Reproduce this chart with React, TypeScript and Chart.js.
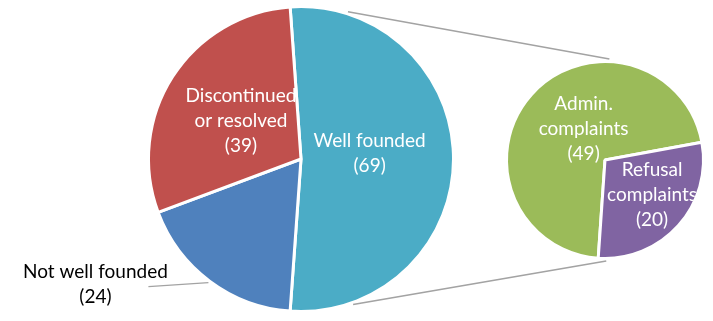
import { useEffect, useRef } from 'react';
import { Chart, registerables } from 'chart.js';

Chart.register(...registerables);

// ---- data ----
const mainCategories = ['Well founded', 'Not well founded', 'Discontinued or resolved'];
const mainValues = [69, 24, 39];
const mainNameLines = [['Well founded'], ['Not well founded'], ['Discontinued', 'or resolved']];

const subCategories = ['Admin. complaints', 'Refusal complaints'];
const subValues = [49, 20];
const subNameLines = [['Admin.', 'complaints'], ['Refusal', 'complaints']];

// ---- styles ----
const W = 713;
const H = 321;
const mainColors = ['#4BACC6', '#4F81BD', '#C0504D'];
const subColors = ['#9BBB59', '#8064A2'];
const FONT = '19px Lato';
const LINE_H = 25;
const CONNECTOR = '#a3a3a3';

type LabelCfg = { f: number; dx: number; dy: number; outside?: boolean; leader?: [number, number]; textOff?: [number, number] };

const mainLabelCfg: LabelCfg[] = [
  { f: 0.45, dx: 0, dy: -6 },
  { f: 1, dx: 0, dy: 0, outside: true, leader: [-60, 4], textOff: [-53, -2] },
  { f: 0.468, dx: 0, dy: 0 },
];
const subLabelCfg: LabelCfg[] = [
  { f: 0.4, dx: 8, dy: -5 },
  { f: 0.6, dx: 3, dy: -4 },
];

function makeLabelPlugin(nameLines: string[][], values: number[], cfg: LabelCfg[]) {
  return {
    id: 'sliceLabels',
    afterDatasetsDraw(chart: any) {
      const ctx = chart.ctx as CanvasRenderingContext2D;
      const meta = chart.getDatasetMeta(0);
      meta.data.forEach((arc: any, i: number) => {
        const { x, y, startAngle, endAngle, outerRadius } = arc.getProps(
          ['x', 'y', 'startAngle', 'endAngle', 'outerRadius'],
          true
        );
        const mid = (startAngle + endAngle) / 2;
        const c = cfg[i];
        const lines = [...nameLines[i], `(${values[i]})`];
        ctx.save();
        ctx.font = FONT;
        ctx.textAlign = 'center';
        ctx.textBaseline = 'middle';
        let cx: number;
        let cy: number;
        if (c.outside && c.leader && c.textOff) {
          const sx = x + Math.cos(mid) * (outerRadius + 2);
          const sy = y + Math.sin(mid) * (outerRadius + 2);
          const ex = sx + c.leader[0];
          const ey = sy + c.leader[1];
          ctx.strokeStyle = CONNECTOR;
          ctx.lineWidth = 1.3;
          ctx.beginPath();
          ctx.moveTo(sx, sy);
          ctx.lineTo(ex, ey);
          ctx.stroke();
          cx = ex + c.textOff[0];
          cy = ey + c.textOff[1];
          ctx.fillStyle = '#000000';
        } else {
          cx = x + Math.cos(mid) * outerRadius * c.f + c.dx;
          cy = y + Math.sin(mid) * outerRadius * c.f + c.dy;
          ctx.beginPath();
          ctx.moveTo(x, y);
          ctx.arc(x, y, outerRadius - 1.5, startAngle, endAngle);
          ctx.closePath();
          ctx.clip();
          ctx.fillStyle = '#ffffff';
        }
        const top = cy - ((lines.length - 1) * LINE_H) / 2;
        lines.forEach((t, k) => ctx.fillText(t, cx, top + k * LINE_H));
        ctx.restore();
      });
    },
  };
}

const sum = (a: number[]) => a.reduce((s, v) => s + v, 0);

export default function App() {
  const mainRef = useRef<HTMLCanvasElement>(null);
  const subRef = useRef<HTMLCanvasElement>(null);

  useEffect(() => {
    document.body.style.margin = '0';
    const mainTotal = sum(mainValues);
    const subTotal = sum(subValues);
    const splitSweep = (mainValues[0] / mainTotal) * 360;

    const mainChart = new Chart(mainRef.current!, {
      type: 'pie',
      data: {
        labels: mainCategories,
        datasets: [
          { data: mainValues, backgroundColor: mainColors, borderColor: '#ffffff', borderWidth: 3 },
        ],
      },
      options: {
        responsive: false,
        animation: false,
        events: [],
        rotation: 90 - splitSweep / 2,
        layout: { padding: { left: 147, right: 258, top: 5, bottom: 8 } },
        plugins: { legend: { display: false }, tooltip: { enabled: false } },
      },
      plugins: [makeLabelPlugin(mainNameLines, mainValues, mainLabelCfg)],
    });

    const refusalSweep = (subValues[1] / subTotal) * 360;
    const connectorPlugin = {
      id: 'connectors',
      afterDraw(chart: any) {
        const ctx = chart.ctx as CanvasRenderingContext2D;
        const a = mainChart.getDatasetMeta(0).data[0] as any;
        const b = chart.getDatasetMeta(0).data[0] as any;
        const toXY = (el: any, degFromNorth: number, extra: number) => {
          const r = el.outerRadius + extra;
          const t = (degFromNorth * Math.PI) / 180;
          return [el.x + Math.sin(t) * r, el.y - Math.cos(t) * r];
        };
        const pairs: [number, number][] = [
          [17.7, 2.5],
          [160.3, 179.3],
        ];
        ctx.save();
        ctx.strokeStyle = CONNECTOR;
        ctx.lineWidth = 1.5;
        pairs.forEach(([am, bm]) => {
          const p = toXY(a, am, 2);
          const q = toXY(b, bm, 2.5);
          ctx.beginPath();
          ctx.moveTo(p[0], p[1]);
          ctx.lineTo(q[0], q[1]);
          ctx.stroke();
        });
        ctx.restore();
      },
    };

    const subChart = new Chart(subRef.current!, {
      type: 'pie',
      data: {
        labels: subCategories,
        datasets: [
          { data: subValues, backgroundColor: subColors, borderColor: '#ffffff', borderWidth: 3 },
        ],
      },
      options: {
        responsive: false,
        animation: false,
        events: [],
        rotation: 79.6 + refusalSweep - 360,
        layout: { padding: { left: 505, right: 8, top: 60, bottom: 61 } },
        plugins: { legend: { display: false }, tooltip: { enabled: false } },
      },
      plugins: [makeLabelPlugin(subNameLines, subValues, subLabelCfg), connectorPlugin],
    });

    return () => {
      subChart.destroy();
      mainChart.destroy();
    };
  }, []);

  return (
    <div style={{ position: 'relative', width: W, height: H, background: '#ffffff' }}>
      <canvas ref={mainRef} width={W} height={H} style={{ position: 'absolute', left: 0, top: 0 }} />
      <canvas ref={subRef} width={W} height={H} style={{ position: 'absolute', left: 0, top: 0 }} />
    </div>
  );
}
